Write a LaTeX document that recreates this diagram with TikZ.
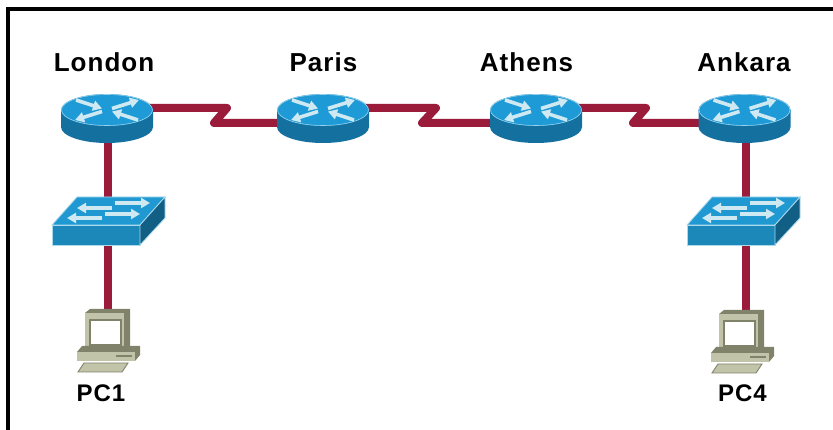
\documentclass[tikz,border=0pt]{standalone}
\usepackage{fontspec}
\usetikzlibrary{arrows.meta}
\setmainfont{Liberation Sans}[LetterSpace=4]
\definecolor{routertop}{HTML}{1E9AD6}
\definecolor{routerside}{HTML}{14709F}
\definecolor{switchfront}{HTML}{2099D2}
\definecolor{switchside}{HTML}{125F86}
\definecolor{linkred}{HTML}{9A1C3A}
\definecolor{pcbody}{HTML}{C2C4AA}
\definecolor{pcdark}{HTML}{808269}
\definecolor{markpale}{HTML}{CFE9F3}
\tikzset{
  x=1pt,y=-1pt,
  lbl/.style={font=\fontsize{26}{28}\selectfont\bfseries,inner sep=0pt,text=black,anchor=base},
  pclbl/.style={lbl,font=\fontsize{24}{26}\selectfont\bfseries},
  anchorpt/.style={inner sep=0pt,minimum size=0pt},
  link/.style={draw=linkred,line width=8pt,line join=round},
  arrowmark/.style={draw=markpale,line width=3.6pt,-{Triangle[length=9pt,width=10pt]}},
  pics/routericon/.style={code={
    \fill[routerside] (-46,0) -- (-46,17) arc[start angle=180,end angle=0,x radius=46,y radius=16] -- (46,0) -- cycle;
    \fill[routertop] (0,0) ellipse[x radius=46,y radius=16];
    \draw[markpale!70!routertop,line width=.6pt] (0,0) ellipse[x radius=45.5,y radius=15.5];
    \draw[arrowmark] (-31,-10) -- (-5,-1.5);
    \draw[arrowmark] (31,10) -- (5,1.5);
    \draw[arrowmark] (-5,1.5) -- (-32,10);
    \draw[arrowmark] (5,-1.5) -- (32,-10);
  }},
  pics/switchicon/.style={code={
    \fill[switchfront,draw=markpale!80!switchfront,line width=.8pt] (-56,0) -- (-31,-28) -- (57,-28) -- (32,0) -- cycle;
    \fill[switchfront!88!black,draw=markpale!80!switchfront,line width=.8pt] (-56,0) rectangle (32,20);
    \fill[switchside,draw=markpale!80!switchfront,line width=.8pt] (32,0) -- (57,-28) -- (57,-7) -- (32,20) -- cycle;
    \draw[arrowmark] (4,-17) -- (-31,-17);
    \draw[arrowmark] (7,-22) -- (42,-22);
    \draw[arrowmark] (-6,-7) -- (-41,-7);
    \draw[arrowmark] (-3,-11) -- (32,-11);
  }},
  pics/pcicon/.style={code={
    \fill[pcdark] (-23,4) -- (-18,0) -- (22,0) -- (22,37) -- (16,39) -- (-23,39) -- cycle;
    \fill[pcbody] (-23,4) rectangle (16,39);
    \fill[white,draw=pcdark,line width=1.5pt] (-18,11) rectangle (13,36);
    \fill[pcdark] (-31,43) -- (-26,37) -- (32,37) -- (32,46) -- (27,52) -- (-31,52) -- cycle;
    \fill[pcbody] (-31,43) rectangle (27,52);
    \draw[pcdark,line width=1.4pt] (8,47) -- (24,47);
    \fill[pcbody,draw=pcdark,line width=.9pt] (-30,63) -- (-24,54) -- (20,54) -- (14,63) -- cycle;
  }}
}
\begin{document}
\begin{tikzpicture}
\useasboundingbox (0,0) rectangle (833,430);
\fill[white] (0,0) rectangle (833,430);
\fill[black] (6,7) rectangle (833,11.5);
\fill[black] (6,7) rectangle (10,430);
% anchors
\node[anchorpt] (london) at (107,110) {};
\node[anchorpt] (paris) at (323,110) {};
\node[anchorpt] (athens) at (536,110) {};
\node[anchorpt] (ankara) at (744.5,110) {};
\node[anchorpt] (sw1) at (108,225) {};
\node[anchorpt] (sw4) at (746,225) {};
\node[anchorpt] (pc1) at (108,309) {};
\node[anchorpt] (pc4) at (746,310) {};
% link bends
\coordinate (a1) at (227,108); \coordinate (a2) at (214,123);
\coordinate (b1) at (436,108); \coordinate (b2) at (422,123);
\coordinate (c1) at (646,108); \coordinate (c2) at (633,123);
\draw[link] (london |- a1) -- (a1) -- (a2) -- (a2 -| paris);
\draw[link] (paris |- b1) -- (b1) -- (b2) -- (b2 -| athens);
\draw[link] (athens |- c1) -- (c1) -- (c2) -- (c2 -| ankara);
\draw[draw=linkred,line width=8pt] (sw1 |- london) -- (sw1);
\draw[draw=linkred,line width=8pt] (sw1) -- (pc1);
\draw[draw=linkred,line width=8pt] (sw4 |- ankara) -- (sw4);
\draw[draw=linkred,line width=8pt] (sw4) -- (pc4);
% icons
\pic at (london) {routericon};
\pic at (paris) {routericon};
\pic at (athens) {routericon};
\pic at (ankara) {routericon};
\pic at (sw1) {switchicon};
\pic at ([xshift=-3pt]sw4) {switchicon};
\pic at (pc1) {pcicon};
\pic at ([xshift=-4pt]pc4) {pcicon};
% labels
\node[lbl] (lLondon) at (104,72) {London};
\node[lbl] (lParis) at (323.5,72) {Paris};
\node[lbl] (lAthens) at (526.5,72) {Athens};
\node[lbl] (lAnkara) at (744,72) {Ankara};
\node[pclbl] (lPC1) at (101,402) {PC1};
\node[pclbl] (lPC4) at (742.5,402) {PC4};
\end{tikzpicture}
\end{document}
